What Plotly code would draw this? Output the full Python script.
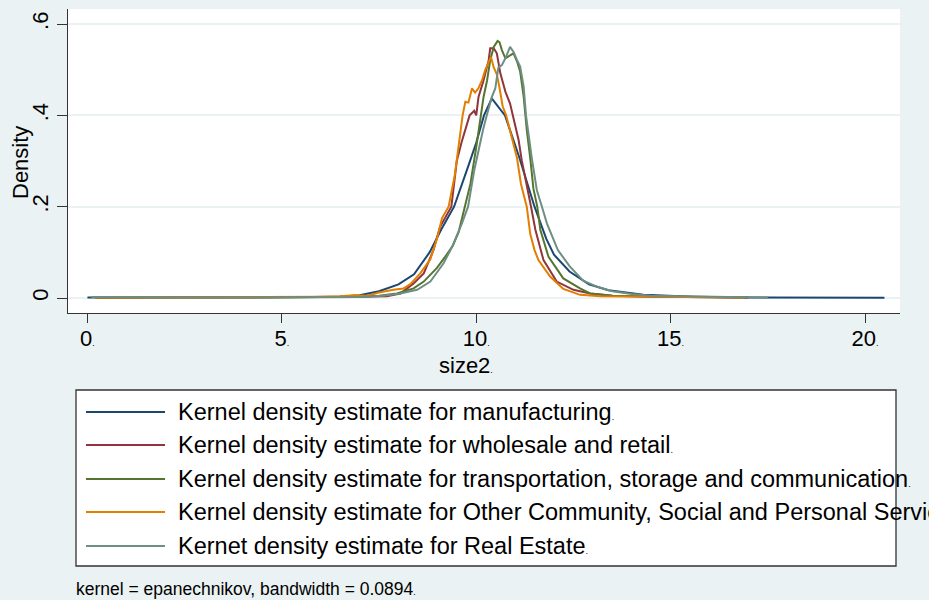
import plotly.graph_objects as go

# ---- kernel density curves for size2, by sector ----
series_names = [
    "Kernel density estimate for manufacturing",
    "Kernel density estimate for wholesale and retail",
    "Kernel density estimate for transportation, storage and communication",
    "Kernel density estimate for Other Community, Social and Personal Services",
    "Kernet density estimate for Real Estate",
]
series_colors = ["#1a476f", "#90353b", "#55752f", "#e37e00", "#6e8e84"]

manuf_x = [0.0, 1.0, 2.0, 3.0, 4.0, 5.0, 6.0, 6.5, 7.0, 7.5, 8.0, 8.4, 8.8, 9.1, 9.43,
           9.8, 10.0, 10.2, 10.4, 10.74, 11.1, 11.5, 11.8, 12.0, 12.4, 12.9, 13.4,
           14.3, 15.6, 17.0, 18.5, 20.5]
manuf_y = [0.001, 0.0005, 0.0005, 0.001, 0.001, 0.001, 0.002, 0.003, 0.006, 0.015, 0.03,
           0.052, 0.1, 0.15, 0.2, 0.29, 0.34, 0.4, 0.437, 0.4, 0.31, 0.2, 0.13, 0.095,
           0.058, 0.03, 0.017, 0.007, 0.003, 0.001, 0.001, 0.0005]

whole_x = [0.2, 1.5, 3.0, 4.5, 6.0, 7.0, 7.7, 8.05, 8.39, 8.65, 8.9, 9.07, 9.36, 9.5,
           9.62, 9.72, 9.83, 9.95, 10.0, 10.06, 10.19, 10.32, 10.36, 10.45, 10.53, 10.62,
           10.75, 10.87, 10.94, 11.09, 11.17, 11.3, 11.41, 11.52, 11.73, 12.07, 12.5,
           12.93, 13.5, 14.5, 15.5, 17.0]
whole_y = [0.001, 0.002, 0.002, 0.002, 0.002, 0.003, 0.004, 0.01, 0.032, 0.054, 0.105,
           0.156, 0.2, 0.3, 0.34, 0.368, 0.4, 0.41, 0.4, 0.441, 0.477, 0.521, 0.547,
           0.547, 0.536, 0.492, 0.452, 0.426, 0.4, 0.346, 0.302, 0.25, 0.2, 0.15, 0.083,
           0.036, 0.018, 0.01, 0.005, 0.003, 0.002, 0.001]

trans_x = [0.2, 1.5, 3.0, 4.5, 6.0, 7.0, 7.5, 7.96, 8.39, 8.65, 8.99, 9.2, 9.4, 9.55,
           9.7, 9.85, 10.0, 10.12, 10.19, 10.28, 10.36, 10.45, 10.55, 10.6, 10.66, 10.75,
           10.87, 10.96, 11.05, 11.13, 11.22, 11.3, 11.39, 11.47, 11.57, 11.65, 11.86,
           12.24, 12.67, 12.93, 13.5, 14.5, 15.5, 17.0]
trans_y = [0.001, 0.001, 0.001, 0.001, 0.002, 0.003, 0.005, 0.01, 0.021, 0.036, 0.066,
           0.09, 0.115, 0.145, 0.2, 0.25, 0.33, 0.4, 0.441, 0.477, 0.521, 0.55, 0.563,
           0.56, 0.543, 0.525, 0.532, 0.536, 0.518, 0.496, 0.441, 0.368, 0.306, 0.24,
           0.2, 0.149, 0.09, 0.043, 0.021, 0.01, 0.005, 0.003, 0.002, 0.001]

other_x = [0.2, 1.0, 2.0, 3.0, 4.0, 5.0, 5.8, 6.5, 6.85, 7.2, 7.5, 7.87, 8.13, 8.3, 8.56,
           8.82, 8.99, 9.12, 9.29, 9.45, 9.55, 9.65, 9.72, 9.8, 9.89, 9.97, 10.06, 10.15,
           10.23, 10.32, 10.38, 10.45, 10.53, 10.6, 10.68, 10.77, 10.92, 11.05, 11.15,
           11.3, 11.39, 11.5, 11.6, 11.9, 12.24, 12.67, 13.2, 14.0, 15.0, 16.0, 16.9]
other_y = [0.001, 0.001, 0.001, 0.002, 0.001, 0.002, 0.002, 0.004, 0.006, 0.005, 0.012,
           0.018, 0.021, 0.03, 0.054, 0.085, 0.13, 0.175, 0.2, 0.27, 0.33, 0.4, 0.43,
           0.428, 0.459, 0.45, 0.46, 0.477, 0.499, 0.518, 0.528, 0.505, 0.49, 0.46, 0.42,
           0.4, 0.346, 0.306, 0.25, 0.2, 0.14, 0.105, 0.083, 0.047, 0.02, 0.007, 0.004,
           0.003, 0.002, 0.001, 0.001]

estate_x = [0.1, 1.5, 3.0, 4.5, 6.0, 7.0, 7.6, 8.05, 8.48, 8.82, 9.16, 9.38, 9.63, 9.79,
            9.95, 10.06, 10.18, 10.27, 10.4, 10.49, 10.57, 10.66, 10.75, 10.87, 10.96,
            11.05, 11.13, 11.22, 11.28, 11.43, 11.56, 11.69, 11.82, 12.1, 12.4, 12.75,
            13.1, 13.5, 14.0, 14.5, 15.5, 16.5, 17.5]
estate_y = [0.002, 0.001, 0.001, 0.001, 0.001, 0.002, 0.005, 0.01, 0.018, 0.036, 0.076,
            0.112, 0.163, 0.2, 0.28, 0.324, 0.37, 0.4, 0.44, 0.459, 0.505, 0.51, 0.525,
            0.55, 0.539, 0.521, 0.507, 0.463, 0.4, 0.306, 0.236, 0.2, 0.163, 0.105, 0.07,
            0.038, 0.025, 0.015, 0.009, 0.005, 0.003, 0.002, 0.001]

curves = [(manuf_x, manuf_y), (whole_x, whole_y), (trans_x, trans_y),
          (other_x, other_y), (estate_x, estate_y)]

x_ticks = [0, 5, 10, 15, 20]
y_ticks = [0, 0.2, 0.4, 0.6]
y_tick_text = ["0", ".2", ".4", ".6"]

note_text = "kernel = epanechnikov, bandwidth = 0.0894"
x_title = "size2"
y_title = "Density"

FONT = "Liberation Sans, Arial, Helvetica, sans-serif"
BG = "#eaf2f3"
DOT = "<span style='font-size:9px'>.</span>"
AX = 22      # axis labels / titles
LEG = 23.5   # legend entries

fig = go.Figure()
for (xs, ys), name, color in zip(curves, series_names, series_colors):
    fig.add_trace(go.Scatter(x=xs, y=ys, mode="lines", name=name,
                             line=dict(color=color, width=2), showlegend=False))

# plot region geometry (pixels)
W, H = 929, 600
L, R, T, B = 68, 900, 9, 313
pw, ph = R - L, B - T


def px(xp):
    return (xp - L) / pw


def py(yp):
    return (B - yp) / ph


fig.update_layout(
    width=W, height=H,
    margin=dict(l=L, r=W - R, t=T, b=H - B, pad=0),
    paper_bgcolor=BG, plot_bgcolor="white",
    font=dict(family=FONT, color="black", size=AX),
    xaxis=dict(range=[-0.5, 20.9], tickvals=x_ticks,
               ticktext=[f"{v}{DOT}" for v in x_ticks],
               ticks="outside", ticklen=9, tickwidth=1.3, tickcolor="#333",
               ticklabelstandoff=-4,
               showline=True, linecolor="#333", linewidth=1.3,
               showgrid=False, zeroline=False, tickfont=dict(size=AX)),
    yaxis=dict(range=[-0.0328, 0.633], tickvals=y_ticks, ticktext=y_tick_text,
               tickangle=-90, ticks="outside", ticklen=10, tickwidth=1.3,
               tickcolor="#333", showline=True, linecolor="#333", linewidth=1.3,
               showgrid=True, gridcolor=BG, gridwidth=1.5, zeroline=False,
               tickfont=dict(size=AX)),
)

annotations = [
    dict(text=y_title, x=px(20), y=py(163), xref="paper", yref="paper",
         textangle=-90, showarrow=False, font=dict(size=AX),
         xanchor="center", yanchor="middle"),
    dict(text=x_title + DOT, x=px(466), y=py(365), xref="paper", yref="paper",
         showarrow=False, font=dict(size=AX), xanchor="center", yanchor="middle"),
    dict(text=note_text + DOT, x=px(74), y=py(589), xref="paper", yref="paper",
         showarrow=False, font=dict(size=17.5), xanchor="left", yanchor="middle"),
]

# legend box drawn as shapes + text
shapes = [dict(type="rect", xref="paper", yref="paper",
               x0=px(76), x1=px(896), y0=py(390), y1=py(566),
               line=dict(color="#333", width=1.3), fillcolor="white", layer="below")]
row_y = [412, 445, 479, 512, 546]
for name, color, ry in zip(series_names, series_colors, row_y):
    shapes.append(dict(type="line", xref="paper", yref="paper",
                       x0=px(86), x1=px(165), y0=py(ry), y1=py(ry),
                       line=dict(color=color, width=2)))
    annotations.append(dict(text=name + DOT, x=px(176), y=py(ry), xref="paper",
                            yref="paper", showarrow=False, font=dict(size=LEG),
                            xanchor="left", yanchor="middle"))

fig.update_layout(shapes=shapes, annotations=annotations)
fig.write_html("out.html")
